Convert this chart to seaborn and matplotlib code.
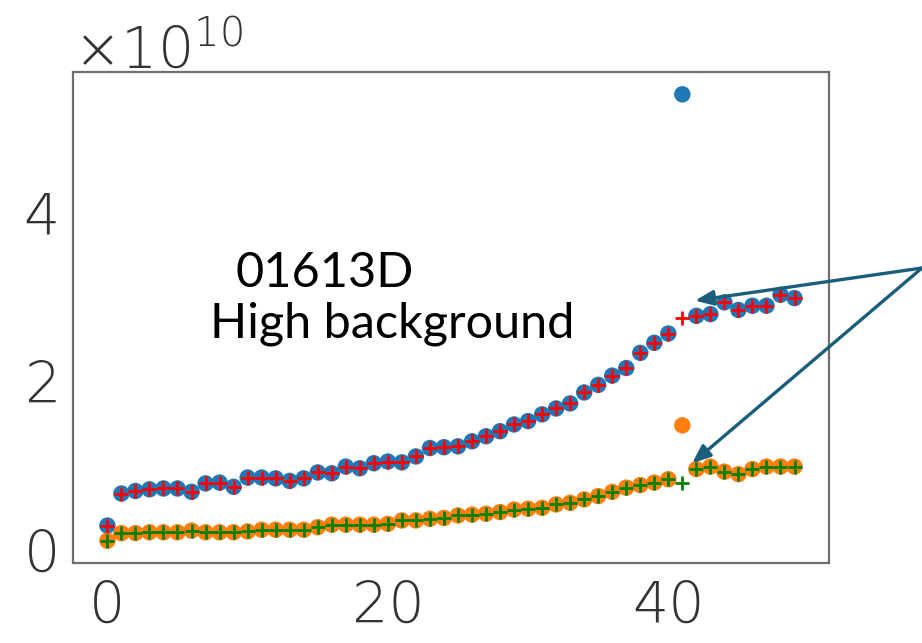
import numpy as np
import pandas as pd
import matplotlib
matplotlib.use("Agg")
import matplotlib.pyplot as plt
import seaborn as sns
from matplotlib import font_manager

# ---- data (values in units of 1e10) ----
frame_idx = list(range(50))
blue_vals = [0.29, 0.67, 0.70, 0.72, 0.73, 0.73, 0.69, 0.79, 0.80, 0.75,
             0.86, 0.86, 0.85, 0.82, 0.85, 0.92, 0.91, 0.99, 0.97, 1.03,
             1.05, 1.04, 1.11, 1.21, 1.22, 1.23, 1.29, 1.35, 1.41, 1.49,
             1.53, 1.61, 1.68, 1.74, 1.87, 1.96, 2.07, 2.16, 2.34, 2.46,
             2.57, 5.41, 2.78, 2.80, 2.94, 2.85, 2.90, 2.90, 3.03, 2.99]
red_vals = [0.29, 0.67, 0.70, 0.72, 0.73, 0.73, 0.69, 0.79, 0.80, 0.75,
            0.86, 0.86, 0.85, 0.82, 0.85, 0.92, 0.91, 0.99, 0.97, 1.03,
            1.05, 1.04, 1.11, 1.21, 1.22, 1.23, 1.29, 1.35, 1.41, 1.49,
            1.53, 1.61, 1.68, 1.74, 1.87, 1.96, 2.07, 2.16, 2.34, 2.46,
            2.57, 2.75, 2.78, 2.80, 2.94, 2.85, 2.90, 2.90, 3.03, 2.99]
orange_vals = [0.11, 0.20, 0.20, 0.21, 0.21, 0.21, 0.23, 0.21, 0.21, 0.21,
               0.22, 0.24, 0.24, 0.24, 0.24, 0.27, 0.30, 0.30, 0.30, 0.30,
               0.31, 0.35, 0.35, 0.37, 0.38, 0.41, 0.42, 0.43, 0.45, 0.48,
               0.49, 0.50, 0.54, 0.56, 0.60, 0.64, 0.69, 0.74, 0.77, 0.80,
               0.84, 1.48, 0.96, 0.99, 0.93, 0.90, 0.96, 0.99, 0.99, 0.99]
green_vals = [0.11, 0.20, 0.20, 0.21, 0.21, 0.21, 0.23, 0.21, 0.21, 0.21,
              0.22, 0.24, 0.24, 0.24, 0.24, 0.27, 0.30, 0.30, 0.30, 0.30,
              0.31, 0.35, 0.35, 0.37, 0.38, 0.41, 0.42, 0.43, 0.45, 0.48,
              0.49, 0.50, 0.54, 0.56, 0.60, 0.64, 0.69, 0.74, 0.77, 0.80,
              0.84, 0.80, 0.96, 0.99, 0.93, 0.90, 0.96, 0.99, 0.99, 0.99]
scale = 1e10
x_ticks = [0, 20, 40]
y_ticks = [0, 2, 4]
label_line1 = "01613D"
label_line2 = "High background"

df = pd.DataFrame({
    "x": frame_idx,
    "blue": np.array(blue_vals) * scale,
    "red": np.array(red_vals) * scale,
    "orange": np.array(orange_vals) * scale,
    "green": np.array(green_vals) * scale,
})

sns.set_style("white")
plt.rcParams["font.family"] = ["DejaVu Sans"]
plt.rcParams["mathtext.default"] = "regular"

# pick a light weight for tick labels if one is installed
tick_family = "DejaVu Sans"
tick_weight = "normal"
names = {(f.name, f.weight) for f in font_manager.fontManager.ttflist}
for fam in ["DejaVu Sans", "Roboto", "Open Sans", "Lato", "Inter"]:
    if any(n == fam and (w in (200, 300, "light", "extra light")) for n, w in names):
        tick_family = fam
        tick_weight = "light"
        break

fig = plt.figure(figsize=(9.22, 6.43), dpi=100)
ax = fig.add_axes([0.0792, 0.1244, 0.8198, 0.7636])

sns.scatterplot(data=df, x="x", y="blue", color="#1f77b4", s=140,
                edgecolor="none", ax=ax, zorder=2)
sns.scatterplot(data=df, x="x", y="orange", color="#ff7f0e", s=140,
                edgecolor="none", ax=ax, zorder=2)
sns.scatterplot(data=df, x="x", y="red", color="#ff0000", marker="+", s=110,
                linewidth=2.0, ax=ax, zorder=3)
sns.scatterplot(data=df, x="x", y="green", color="#008000", marker="+", s=110,
                linewidth=2.0, ax=ax, zorder=3)

ax.set_xlabel("")
ax.set_ylabel("")
ax.set_xticks(x_ticks)
ax.set_yticks([v * scale for v in y_ticks])
ax.ticklabel_format(axis="y", style="sci", scilimits=(0, 0), useMathText=True)
ax.tick_params(axis="both", length=0, labelsize=41, colors="#333333", pad=12)
for lab in ax.get_xticklabels() + ax.get_yticklabels():
    lab.set_family(tick_family)
    lab.set_weight(tick_weight)
off = ax.yaxis.get_offset_text()
off.set_fontsize(41)
off.set_color("#333333")
off.set_family(tick_family)
off.set_weight(tick_weight)
for sp in ax.spines.values():
    sp.set_color("#6e6e6e")
    sp.set_linewidth(1.6)

# annotation text
fig.text(235 / 922, 1 - 287 / 643, label_line1, fontsize=35, family="Lato",
         va="baseline", ha="left", color="black")
fig.text(210 / 922, 1 - 337 / 643, label_line2, fontsize=35, family="Lato",
         va="baseline", ha="left", color="black")

# arrows from outside right edge to the discontinuity at frame 41
arrow_color = "#1b5e7b"
start = (1.0, 1 - 268 / 643)
for tip in [(41.9, 2.96 * scale), (41.7, 1.03 * scale)]:
    ax.annotate("", xy=tip, xycoords="data", xytext=start,
                textcoords="figure fraction", annotation_clip=False,
                arrowprops=dict(arrowstyle="-|>,head_length=1.1,head_width=0.45",
                                color=arrow_color, lw=2.4, shrinkA=0, shrinkB=0))

fig.savefig("out.png", dpi=100, facecolor="white")
